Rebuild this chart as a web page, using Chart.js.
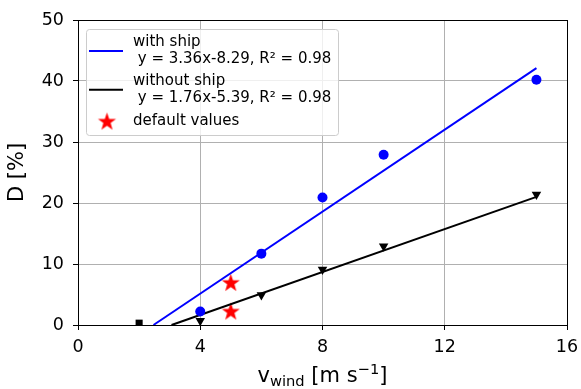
<!DOCTYPE html>
<html>
<head>
<meta charset="utf-8">
<script src="https://cdn.jsdelivr.net/npm/chart.js@4.4.0/dist/chart.umd.min.js"></script>
<style>
  html, body { margin: 0; padding: 0; background: #fff; }
  #wrap { width: 581px; height: 389px; }
</style>
</head>
<body>
<div id="wrap"><canvas id="chart" width="581" height="389"></canvas></div>
<script>
const windSpeeds = [4, 6, 8, 10, 15]
const withShip = [2.2, 11.7, 20.9, 27.9, 40.2]
const withoutShip = [0.7, 4.9, 9.1, 12.9, 21.4]
const extraPoint = [{ x: 2, y: 0.3 }]
const defaultValues = [{ x: 5, y: 7.0 }, { x: 5, y: 2.3 }]
const fitWithShip = [{ x: 2.47, y: 0 }, { x: 15, y: 42.11 }]
const fitWithoutShip = [{ x: 3.06, y: 0 }, { x: 15, y: 21.01 }]
const xTicks = [0, 4, 8, 12, 16]
const yTicks = [0, 10, 20, 30, 40, 50]
const legendLabels = [
  ['with ship', ' y = 3.36x-8.29, R\u00b2 = 0.98'],
  ['without ship', ' y = 1.76x-5.39, R\u00b2 = 0.98'],
  ['default values']
]

const FONT = "'DejaVu Sans', sans-serif"

function toPoints(xs, ys) {
  return xs.map((x, i) => ({ x: x, y: ys[i] }))
}

// filled five point star, used as point style
function makeStar(r, color) {
  const c = document.createElement('canvas')
  const s = Math.ceil(r * 2 + 2)
  c.width = s
  c.height = s
  const g = c.getContext('2d')
  g.beginPath()
  for (let i = 0; i < 10; i++) {
    const rad = i % 2 === 0 ? r : r * 0.4
    const a = -Math.PI / 2 + i * Math.PI / 5
    const px = s / 2 + rad * Math.cos(a)
    const py = s / 2 + rad * Math.sin(a) + r * 0.1
    if (i === 0) g.moveTo(px, py)
    else g.lineTo(px, py)
  }
  g.closePath()
  g.fillStyle = color
  g.fill()
  return c
}

const starImg = makeStar(9.5, '#ff0000')

const frameAndTitle = {
  id: 'frameAndTitle',
  afterDatasetsDraw(chart) {
    const { ctx, chartArea: a } = chart
    ctx.save()
    ctx.strokeStyle = '#000'
    ctx.lineWidth = 1
    ctx.strokeRect(Math.round(a.left) + 0.5, Math.round(a.top) + 0.5, Math.round(a.right - a.left), Math.round(a.bottom - a.top))
    ctx.restore()
  },
  afterDraw(chart) {
    const { ctx, chartArea: a } = chart
    ctx.save()
    ctx.fillStyle = '#000'
    ctx.textBaseline = 'alphabetic'
    const parts = [
      { t: 'v', size: 21, dy: 0 },
      { t: 'wind', size: 14.7, dy: 4 },
      { t: ' [m s', size: 21, dy: 0 },
      { t: '\u22121', size: 14.7, dy: -8 },
      { t: ']', size: 21, dy: 0 }
    ]
    let total = 0
    parts.forEach(p => {
      ctx.font = p.size + 'px ' + FONT
      p.w = ctx.measureText(p.t).width
      total += p.w
    })
    let x = (a.left + a.right) / 2 - total / 2
    const base = 382
    parts.forEach(p => {
      ctx.font = p.size + 'px ' + FONT
      ctx.fillText(p.t, x, base + p.dy)
      x += p.w
    })

    // legend
    const lx = a.left + 8, ly = a.top + 9, lw = 252, lh = 106
    ctx.beginPath()
    ctx.roundRect(lx + 0.5, ly + 0.5, lw, lh, 3)
    ctx.fillStyle = 'rgba(255,255,255,0.8)'
    ctx.fill()
    ctx.strokeStyle = '#cccccc'
    ctx.lineWidth = 1
    ctx.stroke()

    ctx.font = '15px ' + FONT
    ctx.textBaseline = 'middle'
    const centers = [[13.5, 30.5], [52, 69.5], [92]]
    const handles = [
      { type: 'line', color: '#0000ff' },
      { type: 'line', color: '#000000' },
      { type: 'star' }
    ]
    legendLabels.forEach((lines, i) => {
      const cs = centers[i]
      const mid = (cs[0] + cs[cs.length - 1]) / 2 + ly
      const h = handles[i]
      if (h.type === 'line') {
        ctx.beginPath()
        ctx.moveTo(lx + 3, mid)
        ctx.lineTo(lx + 37, mid)
        ctx.strokeStyle = h.color
        ctx.lineWidth = 2
        ctx.stroke()
      } else {
        ctx.drawImage(starImg, lx + 21 - starImg.width / 2, mid - starImg.height / 2)
      }
      ctx.fillStyle = '#000'
      lines.forEach((t, j) => {
        ctx.fillText(t, lx + 47, ly + cs[j])
      })
    })
    ctx.restore()
  }
}

new Chart(document.getElementById('chart'), {
  type: 'scatter',
  data: {
    datasets: [
      {
        label: 'with ship fit',
        type: 'line',
        data: fitWithShip,
        borderColor: '#0000ff',
        borderWidth: 2,
        pointRadius: 0,
        clip: false
      },
      {
        label: 'with ship',
        data: toPoints(windSpeeds, withShip),
        backgroundColor: '#0000ff',
        borderColor: '#0000ff',
        pointStyle: 'circle',
        pointRadius: 5,
        borderWidth: 0,
        clip: false
      },
      {
        label: 'without ship fit',
        type: 'line',
        data: fitWithoutShip,
        borderColor: '#000000',
        borderWidth: 2,
        pointRadius: 0,
        clip: false
      },
      {
        label: 'without ship',
        data: toPoints(windSpeeds, withoutShip),
        backgroundColor: '#000000',
        borderColor: '#000000',
        pointStyle: 'triangle',
        rotation: 180,
        pointRadius: 5.5,
        borderWidth: 0,
        clip: false
      },
      {
        label: 'extra',
        data: extraPoint,
        backgroundColor: '#000000',
        borderColor: '#000000',
        pointStyle: 'rect',
        pointRadius: 5,
        borderWidth: 0
      },
      {
        label: 'default values',
        data: defaultValues,
        pointStyle: starImg,
        clip: false
      }
    ]
  },
  plugins: [frameAndTitle],
  options: {
    responsive: false,
    animation: false,
    layout: {
      padding: { left: 0, top: 20, right: 14, bottom: 0 }
    },
    plugins: {
      legend: { display: false },
      tooltip: { enabled: false }
    },
    scales: {
      x: {
        type: 'linear',
        min: 0,
        max: 16,
        afterBuildTicks: function(scale) {
          scale.ticks = xTicks.map(v => ({ value: v }))
        },
        afterFit: function(scale) {
          scale.height = 64
          scale.paddingLeft = 0
          scale.paddingRight = 0
        },
        grid: {
          color: '#b0b0b0',
          lineWidth: 1,
          tickLength: 5,
          tickColor: '#000'
        },
        border: { color: '#000', width: 1 },
        ticks: {
          color: '#000',
          padding: 7,
          maxRotation: 0,
          font: { family: FONT, size: 17.5 }
        }
      },
      y: {
        type: 'linear',
        min: 0,
        max: 50,
        afterBuildTicks: function(scale) {
          scale.ticks = yTicks.map(v => ({ value: v }))
        },
        afterFit: function(scale) {
          scale.width = 78
          scale.paddingTop = 0
          scale.paddingBottom = 0
        },
        grid: {
          color: '#b0b0b0',
          lineWidth: 1,
          tickLength: 5,
          tickColor: '#000'
        },
        border: { color: '#000', width: 1 },
        ticks: {
          color: '#000',
          padding: 9,
          font: { family: FONT, size: 17.5 }
        },
        title: {
          display: true,
          text: 'D [%]',
          color: '#000',
          padding: { top: 5, bottom: 0 },
          font: { family: FONT, size: 21 }
        }
      }
    }
  }
})
</script>
</body>
</html>
